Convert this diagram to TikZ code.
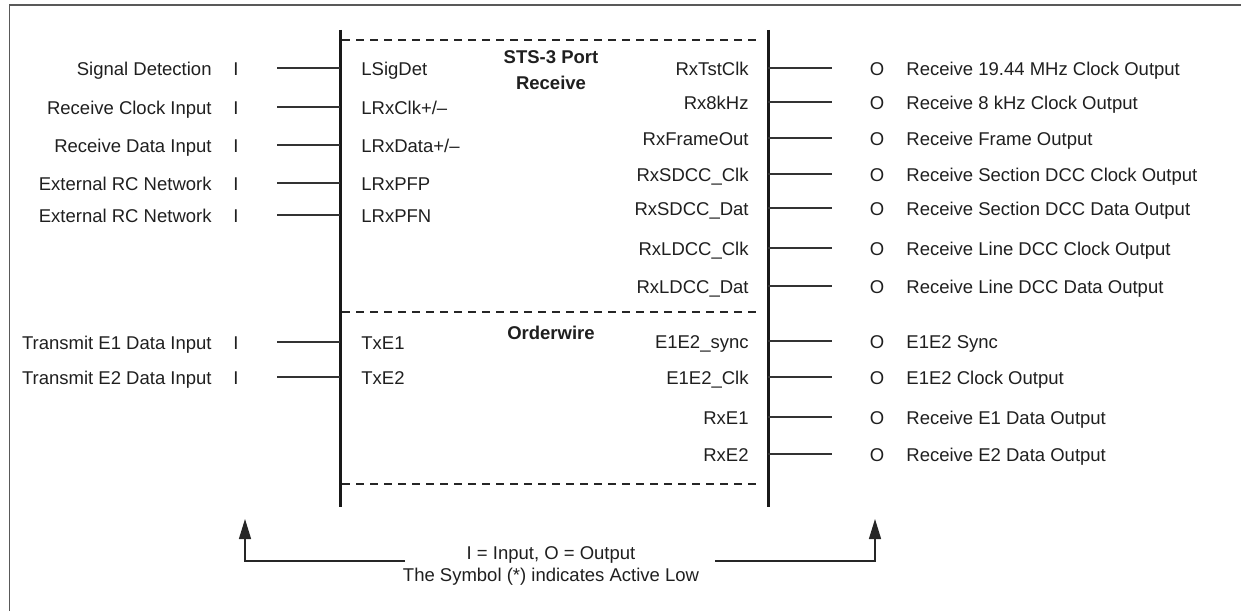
\documentclass[tikz,border=0pt]{standalone}
\usepackage{fontspec}
\setmainfont{Liberation Sans}
\usetikzlibrary{arrows.meta}
\begin{document}
\begin{tikzpicture}[x=0.5pt,y=-0.5pt,
  lbl/.style={inner sep=0pt, text height=0.716em, text depth=0pt, text=black!88, font=\fontsize{9.25}{11}\selectfont},
  ttl/.style={lbl, font=\fontsize{9.25}{11}\selectfont\bfseries},
  wire/.style={line width=0.6pt, draw=black!80},
  bar/.style={line width=1.5pt, draw=black!90},
  dline/.style={line width=0.6pt, draw=black!85, dash pattern=on 4pt off 3pt},
  frame/.style={line width=0.9pt, draw=black!65},
  uparrow/.style={line width=0.7pt, draw=black!85, -{Triangle[length=10pt,width=6pt]}}
]
\useasboundingbox (0,0) rectangle (1241,610);
% outer frame (open at right and bottom)
\draw[frame] (9.5,615) |- (1245,5);

% block edges
\coordinate (bl-top) at (340,30);
\coordinate (bl-bot) at (340,507);
\coordinate (br-top) at (768,30);
\coordinate (br-bot) at (768,507);
\draw[bar] (bl-top) -- (bl-bot);
\draw[bar] (br-top) -- (br-bot);

% dashed separators
\coordinate (d1a) at (342,40);  \coordinate (d1b) at (758,40);
\coordinate (d2a) at (342,312); \coordinate (d2b) at (758,312);
\coordinate (d3a) at (342,484); \coordinate (d3b) at (758,484);
\draw[dline] (d1a) -- (d1b);
\draw[dline] (d2a) -- (d2b);
\draw[dline] (d3a) -- (d3b);

% section titles
\node[ttl] (t1) at (551,56) {STS-3 Port};
\node[ttl] (t2) at (551,82) {Receive};
\node[ttl] (t3) at (551,332) {Orderwire};

% left side (inputs)
\foreach \y/\t/\p [count=\i] in {
  68/Signal Detection/LSigDet,
  107/Receive Clock Input/{LRxClk+/–},
  145/Receive Data Input/{LRxData+/–},
  183/External RC Network/LRxPFP,
  215/External RC Network/LRxPFN,
  342/Transmit E1 Data Input/TxE1,
  377/Transmit E2 Data Input/TxE2} {
  \node[lbl, anchor=east] (ln\i) at (212,\y) {\t};
  \node[lbl] (li\i) at (236,\y) {I};
  \coordinate (ls\i) at (277,\y);
  \coordinate (le\i) at (340,\y);
  \draw[wire] (ls\i) -- (le\i);
  \node[lbl, anchor=west] (lp\i) at (361,\y) {\p};
}

% right side (outputs)
\foreach \y/\p/\t [count=\i] in {
  68/RxTstClk/Receive 19.44 MHz Clock Output,
  102/Rx8kHz/Receive 8 kHz Clock Output,
  138/RxFrameOut/Receive Frame Output,
  174/RxSDCC\_Clk/Receive Section DCC Clock Output,
  208/RxSDCC\_Dat/Receive Section DCC Data Output,
  248/RxLDCC\_Clk/Receive Line DCC Clock Output,
  286/RxLDCC\_Dat/Receive Line DCC Data Output,
  341/E1E2\_sync/E1E2 Sync,
  377/E1E2\_Clk/E1E2 Clock Output,
  417/RxE1/Receive E1 Data Output,
  454/RxE2/Receive E2 Data Output} {
  \node[lbl, anchor=east] (rp\i) at (749,\y) {\p};
  \coordinate (rs\i) at (768,\y);
  \coordinate (re\i) at (832,\y);
  \draw[wire] (rs\i) -- (re\i);
  \node[lbl] (ro\i) at (877,\y) {O};
  \node[lbl, anchor=west] (rn\i) at (906,\y) {\t};
}

% legend
\node[lbl] (leg1) at (551,552) {I = Input, O = Output};
\node[lbl] (leg2) at (551,574) {The Symbol (*) indicates Active Low};
\coordinate (nl) at (405,561);
\coordinate (nr) at (715,561);
\coordinate (al) at (245,519);
\coordinate (ar) at (875,519);
\draw[uparrow] (nl) -| (al);
\draw[uparrow] (nr) -| (ar);
\end{tikzpicture}
\end{document}
